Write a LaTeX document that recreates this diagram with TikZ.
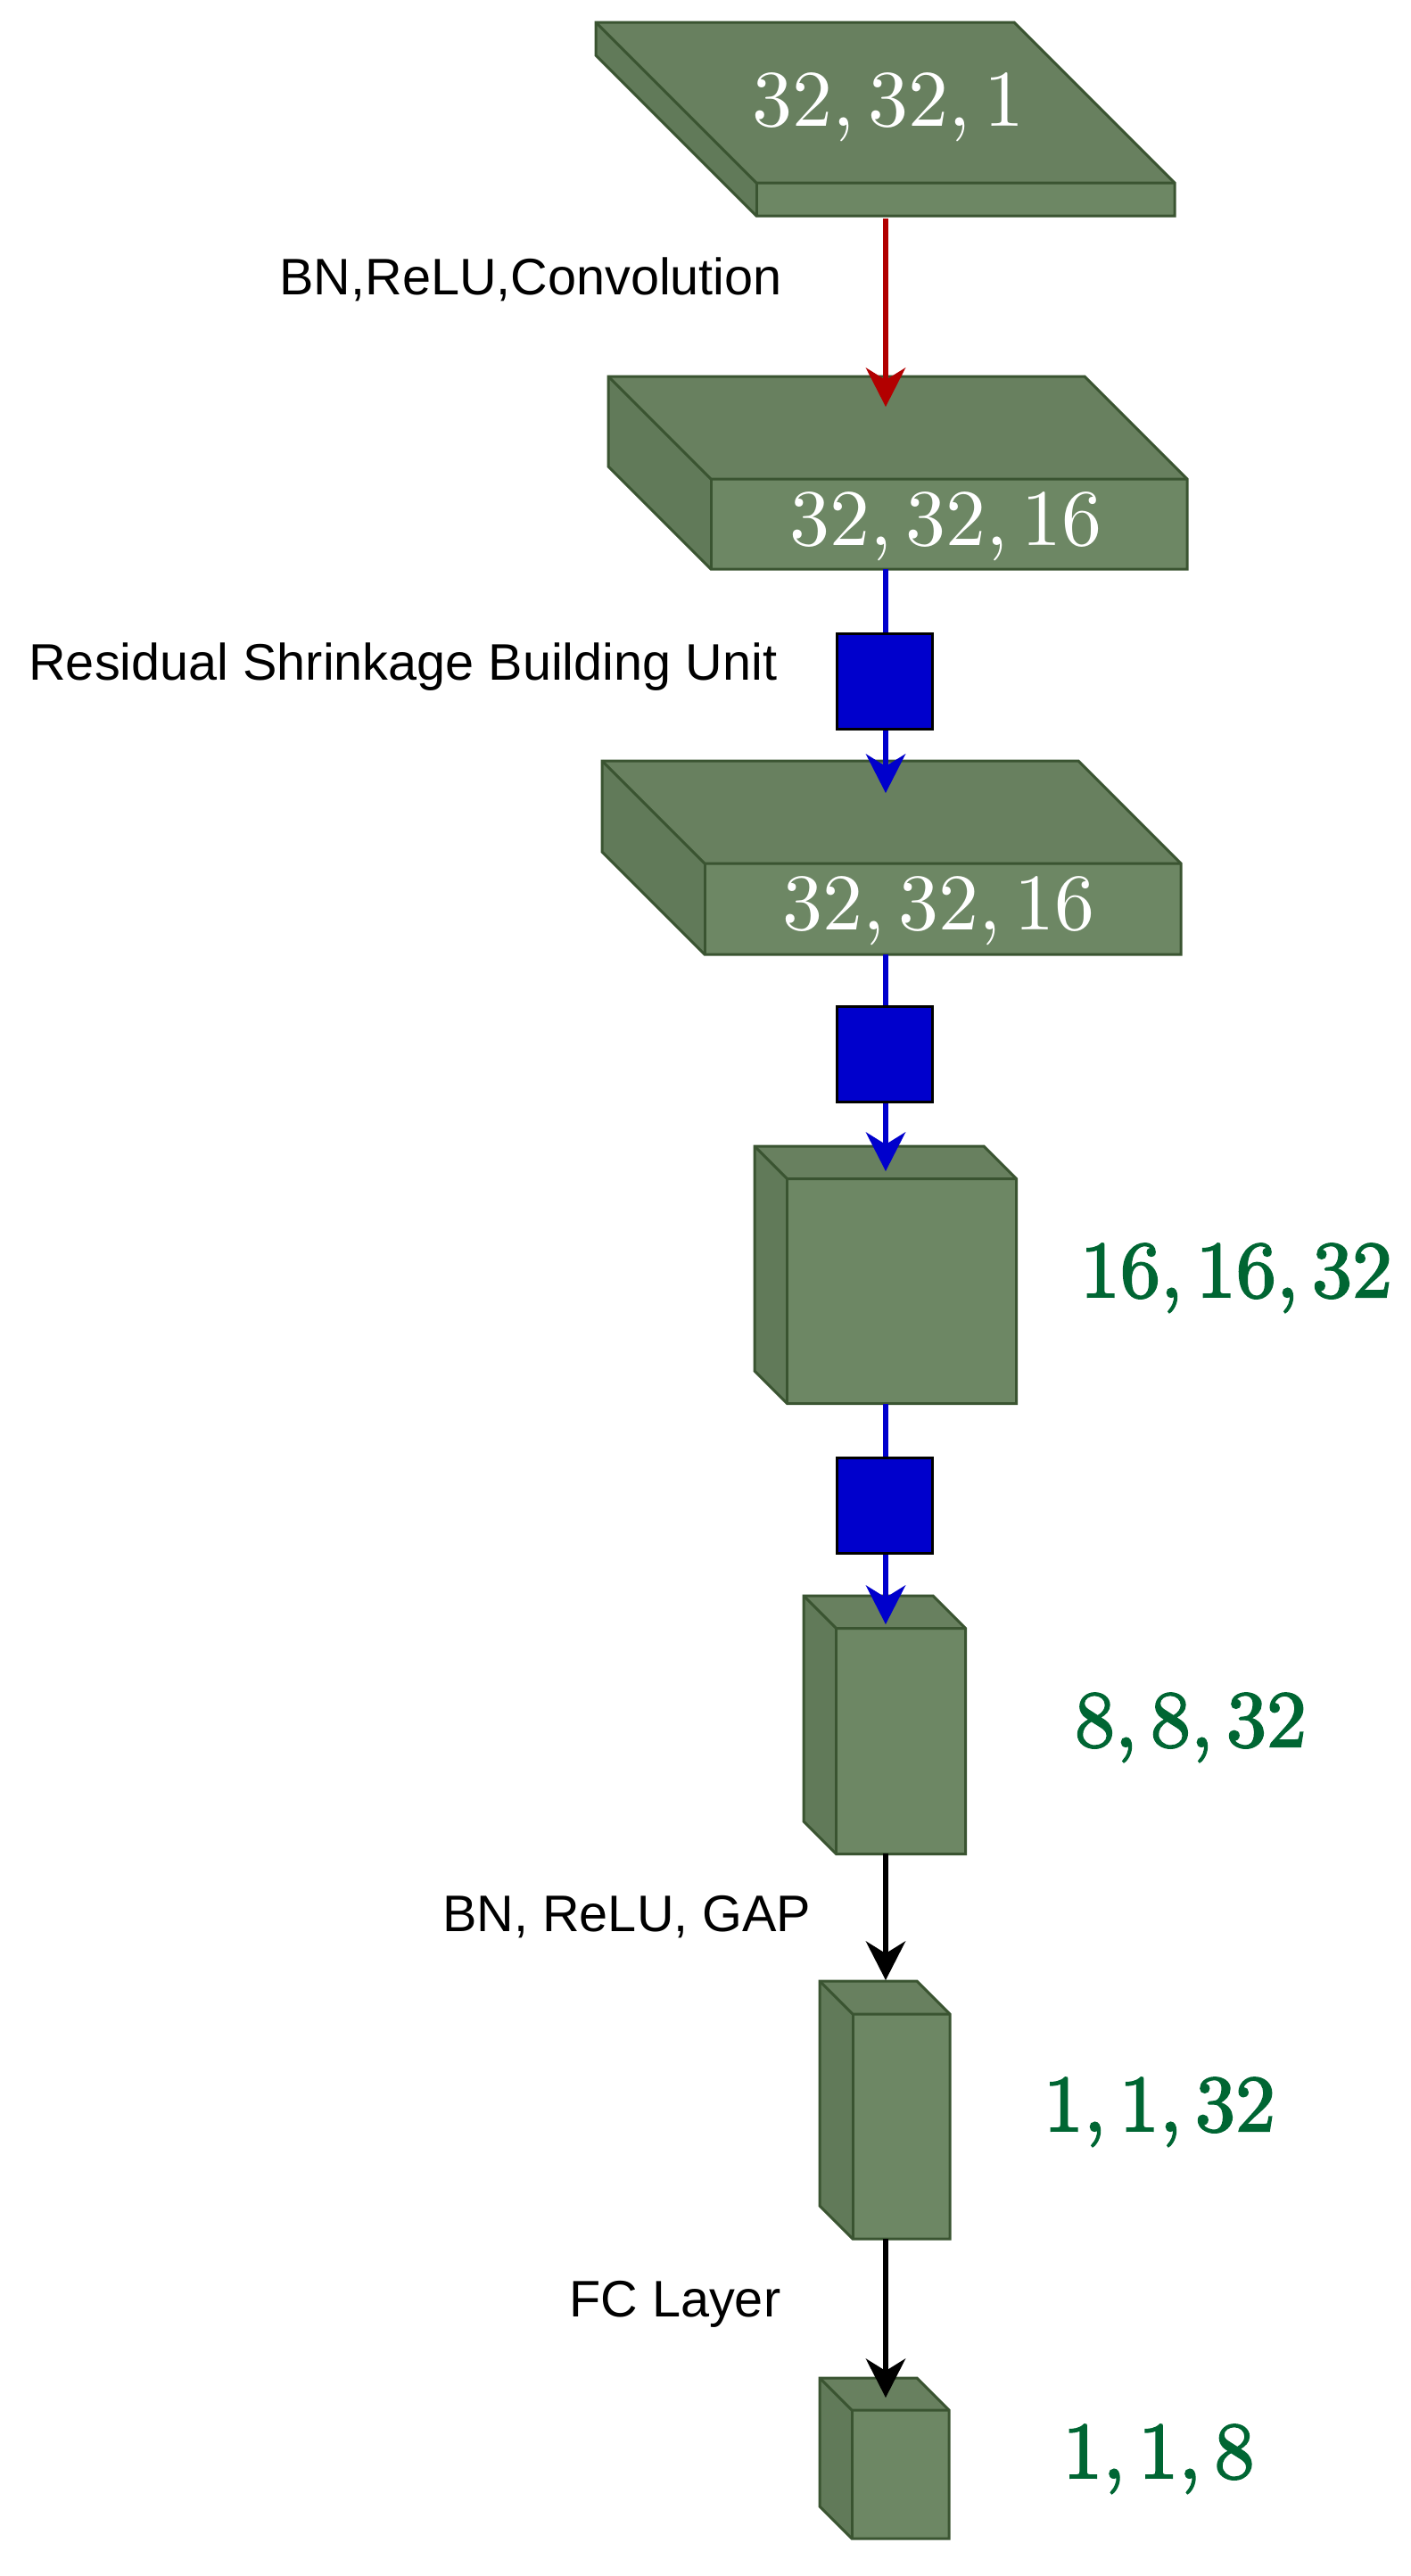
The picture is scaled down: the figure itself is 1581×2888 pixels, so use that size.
\documentclass[tikz,border=0pt]{standalone}
\usepackage{fontspec}
\usetikzlibrary{arrows.meta}
\newfontfamily\labfont{Liberation Sans}
\newfontfamily\whitefont{lmroman10-regular}[Extension=.otf]
\newfontfamily\fboldfont{lmroman10-regular}[Extension=.otf,FakeBold=2.2]
\definecolor{frontc}{HTML}{6D8764}
\definecolor{topc}{HTML}{68805F}
\definecolor{sidec}{HTML}{617A59}
\definecolor{edgec}{HTML}{3A5431}
\definecolor{rsbublue}{HTML}{0000CC}
\definecolor{convred}{HTML}{B20000}
\definecolor{dimgreen}{HTML}{006633}
\newcommand{\layercube}[5]{% X Y d W H
  \fill[topc] (#1,#2) -- ({#1+#4},#2) -- ({#1+#4+#3},{#2+#3}) -- ({#1+#3},{#2+#3}) -- cycle;
  \fill[sidec] (#1,#2) -- ({#1+#3},{#2+#3}) -- ({#1+#3},{#2+#3+#5}) -- (#1,{#2+#5}) -- cycle;
  \fill[frontc] ({#1+#3},{#2+#3}) rectangle ({#1+#3+#4},{#2+#3+#5});
  \draw[cubeline] (#1,#2) -- ({#1+#4},#2) -- ({#1+#4+#3},{#2+#3}) -- ({#1+#4+#3},{#2+#3+#5}) -- ({#1+#3},{#2+#3+#5}) -- (#1,{#2+#5}) -- cycle;
  \draw[cubeline] (#1,#2) -- ({#1+#3},{#2+#3}) -- ({#1+#3+#4},{#2+#3});
  \draw[cubeline] ({#1+#3},{#2+#3}) -- ({#1+#3},{#2+#3+#5});
}
\tikzset{
  cubeline/.style={draw=edgec, line width=1.5pt, line join=miter},
  rsbu/.style={draw=black, fill=rsbublue, line width=1.5pt, minimum width=53.5pt, minimum height=53.5pt, inner sep=0pt},
  flowtip/.style={-{Stealth[length=22pt,width=22.5pt,inset=7pt,line width=0pt]}},
  flowred/.style={draw=convred, line width=3.2pt, flowtip},
  flowblue/.style={draw=rsbublue, line width=3.2pt, flowtip},
  flowblueplain/.style={draw=rsbublue, line width=3.2pt},
  flowblack/.style={draw=black, line width=3.2pt, flowtip},
  whitelab/.style={anchor=base, inner sep=0pt, text=white, font=\whitefont\fontsize{45}{50}\selectfont},
  greenlab/.style={anchor=base, inner sep=0pt, text=dimgreen, font=\fboldfont\fontsize{45}{50}\selectfont},
  sanslab/.style={anchor=base west, inner sep=0pt, text=black, font=\labfont\fontsize{28.8}{32}\selectfont},
}
\begin{document}
\begin{tikzpicture}[x=0.5pt, y=-0.5pt]
\useasboundingbox (0,0) rectangle (1581,2888);
% cubes
\layercube{668}{25}{180}{469}{37}
\layercube{682}{422}{115}{534}{101}
\layercube{675}{853}{115}{534}{102}
\layercube{846}{1285}{36.5}{257}{252}
\layercube{901}{1789}{36.5}{145}{253}
\layercube{919}{2221}{37}{109}{252}
\layercube{919}{2666}{36}{109}{144}
% connector end points
\coordinate (c1out) at (993,245);
\coordinate (c2in) at (993,456);
\coordinate (c2out) at (993,638);
\coordinate (c3in) at (993,889);
\coordinate (c3out) at (993,1070);
\coordinate (c4in) at (993,1313);
\coordinate (c4out) at (993,1574);
\coordinate (c5in) at (993,1821);
\coordinate (c5out) at (993,2078);
\coordinate (c6in) at (993,2220);
\coordinate (c6out) at (993,2510);
\coordinate (c7in) at (993,2688);
% RSBU block positions
\node[rsbu] (s1) at (992,764) {};
\node[rsbu] (s2) at (992,1181.5) {};
\node[rsbu] (s3) at (992,1687.5) {};
% connectors
\draw[flowred] (c1out) -- (c2in);
\draw[flowblueplain] (c2out) -- (c2out |- s1.north);
\draw[flowblue] (c3in |- s1.south) -- (c3in);
\draw[flowblueplain] (c3out) -- (c3out |- s2.north);
\draw[flowblue] (c4in |- s2.south) -- (c4in);
\draw[flowblueplain] (c4out) -- (c4out |- s3.north);
\draw[flowblue] (c5in |- s3.south) -- (c5in);
\draw[flowblack] (c5out) -- (c6in);
\draw[flowblack] (c6out) -- (c7in);
% redraw blocks on top of lines
\node[rsbu] at (s1) {};
\node[rsbu] at (s2) {};
\node[rsbu] at (s3) {};
% labels
\node[whitelab] (t1) at (996,141) {32,\,32,\,1};
\node[whitelab] (t2) at (1061,611) {32,\,32,\,16};
\node[whitelab] (t3) at (1053,1042) {32,\,32,\,16};
\node[greenlab] (g1) at (1386,1454) {16,\,16,\,32};
\node[greenlab] (g2) at (1335,1958) {8,\,8,\,32};
\node[greenlab] (g3) at (1300,2389) {1,\,1,\,32};
\node[greenlab] (g4) at (1299,2778) {1,\,1,\,8};
\node[sanslab] (l1) at (313,330) {BN,ReLU,Convolution};
\node[sanslab] (l2) at (32,762) {Residual Shrinkage Building Unit};
\node[sanslab] (l3) at (496,2165) {BN, ReLU, GAP};
\node[sanslab] (l4) at (638,2597) {FC Layer};
\end{tikzpicture}
\end{document}
